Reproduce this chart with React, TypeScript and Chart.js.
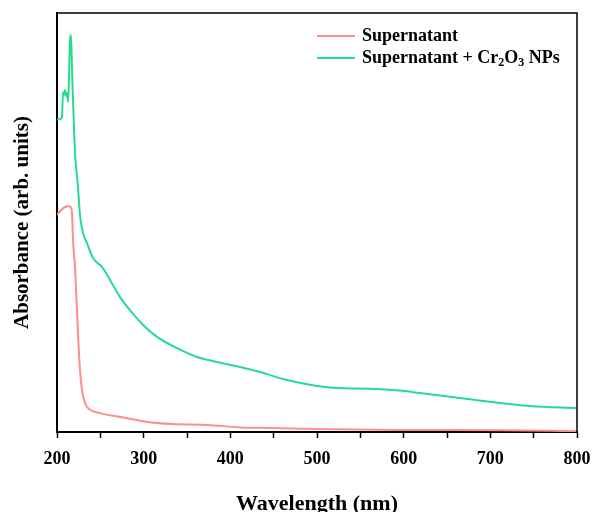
import React, { useEffect, useRef } from 'react';
import { Chart, registerables } from 'chart.js';

Chart.register(...registerables);

// Wavelength (nm) and absorbance (arb. units)
const supWl = [200, 203.5, 209.2, 213.8, 216.2, 217.3, 218.5, 220.8, 224.2, 226.5, 228.8, 232.3, 238.1, 249.6, 280.8, 303.8, 333.8, 373.1, 411.2, 434.2, 498.8, 595.8, 711.2, 800];
const supAbs = [0.518, 0.527, 0.537, 0.539, 0.535, 0.523, 0.458, 0.394, 0.236, 0.148, 0.1, 0.069, 0.053, 0.045, 0.033, 0.024, 0.019, 0.017, 0.011, 0.01, 0.007, 0.005, 0.004, 0.002];

const npWl = [200, 203.5, 205.8, 206.9, 208.1, 209.2, 210.4, 211.5, 212.7, 213.8, 215, 216.2, 217.3, 218.5, 220.8, 224.2, 226.5, 230, 234.6, 241.5, 251.9, 272.7, 284.2, 301.5, 315.4, 338.5, 361.5, 384.6, 411.2, 434.2, 465.4, 500, 526.5, 561.2, 595.8, 618.8, 653.5, 699.6, 745.8, 800];
const npAbs = [0.745, 0.747, 0.752, 0.811, 0.804, 0.816, 0.802, 0.809, 0.788, 0.84, 0.936, 0.947, 0.864, 0.792, 0.666, 0.585, 0.518, 0.475, 0.451, 0.415, 0.394, 0.322, 0.291, 0.251, 0.227, 0.2, 0.179, 0.167, 0.155, 0.143, 0.124, 0.11, 0.105, 0.103, 0.099, 0.093, 0.084, 0.072, 0.062, 0.057];

const xMin = 200;
const xMax = 800;
const xStep = 50;
const xLabelStep = 100;

const supLabel = 'Supernatant';
// label pieces: [text, isSubscript]
const npLabelParts: [string, boolean][] = [['Supernatant + Cr', false], ['2', true], ['O', false], ['3', true], [' NPs', false]];
const npLabel = npLabelParts.map((p) => p[0]).join('');

const supColor = '#fc8e8e';
const npColor = '#26dc8e';

const FONT = "'Liberation Serif', 'Times New Roman', serif";

const framePlugin = {
  id: 'frame',
  afterDatasetsDraw(chart: any) {
    const { ctx, chartArea: a } = chart;
    ctx.save();
    ctx.strokeStyle = '#000';
    ctx.lineWidth = 1.5;
    ctx.beginPath();
    ctx.moveTo(a.left, a.top);
    ctx.lineTo(a.right, a.top);
    ctx.lineTo(a.right, a.bottom);
    ctx.stroke();
    ctx.restore();
  },
};

const legendPlugin = {
  id: 'customLegend',
  afterDraw(chart: any) {
    const { ctx, chartArea: a } = chart;
    const x0 = a.right - 260;
    const lineLen = 38;
    const tx = x0 + lineLen + 7;
    const rows: { color: string; parts: [string, boolean][] }[] = [
      { color: supColor, parts: [[supLabel, false]] },
      { color: npColor, parts: npLabelParts },
    ];
    ctx.save();
    ctx.textBaseline = 'middle';
    rows.forEach((r, i) => {
      const y = a.top + 23 + i * 22;
      ctx.strokeStyle = r.color;
      ctx.lineWidth = 2;
      ctx.beginPath();
      ctx.moveTo(x0, y);
      ctx.lineTo(x0 + lineLen, y);
      ctx.stroke();
      let x = tx;
      ctx.fillStyle = '#000';
      r.parts.forEach(([t, sub]) => {
        ctx.font = `bold ${sub ? 12 : 18}px ${FONT}`;
        ctx.fillText(t, x, sub ? y + 5 : y);
        x += ctx.measureText(t).width;
      });
    });
    ctx.restore();
  },
};

export default function App() {
  const ref = useRef<HTMLCanvasElement | null>(null);

  useEffect(() => {
    document.body.style.margin = '0';
    const canvas = ref.current;
    if (!canvas) return;
    const chart = new Chart(canvas, {
      type: 'line',
      data: {
        datasets: [
          {
            label: supLabel,
            data: supWl.map((x, i) => ({ x, y: supAbs[i] })),
            borderColor: supColor,
            backgroundColor: supColor,
            borderWidth: 2,
            pointRadius: 0,
            cubicInterpolationMode: 'monotone',
          },
          {
            label: npLabel,
            data: npWl.map((x, i) => ({ x, y: npAbs[i] })),
            borderColor: npColor,
            backgroundColor: npColor,
            borderWidth: 2,
            pointRadius: 0,
            cubicInterpolationMode: 'monotone',
          },
        ],
      },
      options: {
        animation: false,
        responsive: false,
        maintainAspectRatio: false,
        layout: { padding: { top: 13, right: 0, left: 0, bottom: 0 } },
        plugins: {
          legend: { display: false },
          tooltip: { enabled: false },
        },
        scales: {
          x: {
            type: 'linear',
            min: xMin,
            max: xMax,
            afterFit: (s: any) => {
              s.height = 80;
              s.paddingLeft = 0;
              s.paddingRight = 15;
            },
            ticks: {
              stepSize: xStep,
              autoSkip: false,
              maxRotation: 0,
              padding: 11,
              color: '#000',
              font: { family: FONT, size: 18, weight: 'bold' },
              callback: (v: any) => (Number(v) % xLabelStep === 0 ? String(v) : ''),
            },
            grid: {
              drawOnChartArea: false,
              drawTicks: true,
              tickLength: 6,
              tickWidth: 1.5,
              tickColor: '#000',
            },
            border: { display: true, color: '#000', width: 2 },
            title: {
              display: true,
              text: 'Wavelength (nm)',
              color: '#000',
              font: { family: FONT, size: 22, weight: 'bold' },
              padding: { top: 0, bottom: -6 },
            },
          },
          y: {
            min: 0,
            max: 1,
            afterFit: (s: any) => {
              s.width = 57;
            },
            ticks: { display: false },
            grid: { display: false, drawTicks: false },
            border: { display: true, color: '#000', width: 2 },
            title: {
              display: true,
              text: 'Absorbance (arb. units)',
              color: '#000',
              font: { family: FONT, size: 21, weight: 'bold' },
              padding: { top: 10, bottom: 0 },
            },
          },
        },
      },
      plugins: [framePlugin, legendPlugin],
    } as any);
    return () => chart.destroy();
  }, []);

  return (
    <div style={{ width: 592, height: 512, background: '#fff' }}>
      <canvas ref={ref} width={592} height={512} style={{ display: 'block' }} />
    </div>
  );
}
